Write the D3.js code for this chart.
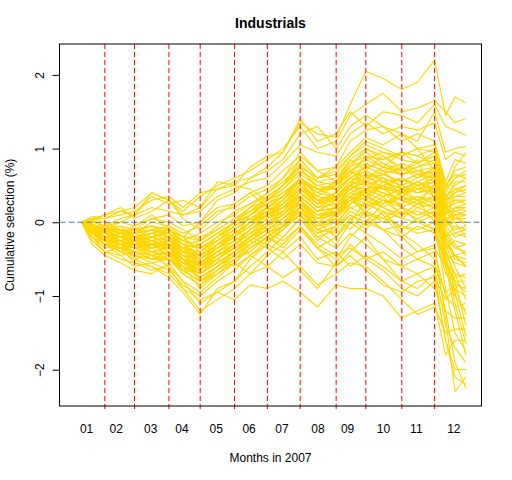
<!DOCTYPE html>
<html>
<head>
<meta charset="utf-8">
<script src="https://cdn.jsdelivr.net/npm/d3@7/dist/d3.min.js"></script>
<style>
  html, body { margin: 0; padding: 0; background: #fff; }
  text { font-family: "Liberation Sans", Arial, sans-serif; }
</style>
</head>
<body>
<div id="chart"></div>
<script>
// ---- data ----
const title = "Industrials";
const xLabel = "Months in 2007";
const yLabel = "Cumulative selection (%)";
// trading-day index of each sampled point
const days = [5,12,20,30,39,50,61,70,81,92,103,113,124,134,145,156,168,177,187,198,210,220,231,238,244,251];
// month-end boundaries (trading-day index)
const monthEnds = [20,39,61,81,103,124,145,168,187,210,231];
// month label positions (trading-day index) and labels
const monthTickPos = [8,27,49,69,91,112,133,156,175,198,219,243];
const monthLabels = ["01","02","03","04","05","06","07","08","09","10","11","12"];
const yTicks = [-2,-1,0,1,2];
// cumulative selection series (%), one row per portfolio
const series = [
[0,.05,.05,.1,.15,.3,.35,.2,.4,.45,.55,.6,.75,.95,1.35,1.2,1.15,1.6,2.05,1.95,1.8,1.9,2.2,1.45,1.7,1.62],
[0,.02,.1,.15,.1,.4,.3,.15,.35,.5,.6,.7,.85,1.0,1.3,1.0,1.1,1.45,1.6,1.75,1.5,1.55,1.65,1.5,1.35,1.41],
[0,-.05,-.1,0,.1,.35,.25,.3,.2,.45,.5,.75,.9,.95,1.4,1.1,1.2,1.5,1.3,1.5,1.45,1.35,1.6,1.3,1.25,1.18],
[0,-.1,-.2,-.15,-.05,.1,-.1,-.2,0,.3,.4,.6,.7,.85,1.2,1.3,1.0,1.3,1.45,1.3,1.2,1.1,1.5,.95,1.0,1.03],
[0,.03,-.05,.05,.1,.2,.15,.1,.15,.35,.45,.55,.6,.8,1.05,.95,.9,1.2,1.35,1.2,1.3,1.25,1.35,.85,.95,.9],
[0,-.15,-.3,-.35,-.25,-.3,-.45,-.7,-.6,-.3,-.2,.1,.3,.5,.85,.6,.75,1.1,1.25,1.3,1.1,1.2,1.1,.55,.85,.8],
[0,0,-.05,0,-.05,.05,.1,-.05,0,.2,.25,.4,.5,.7,.9,.7,.75,.95,1.15,1.05,1.2,1.0,.7,.2,.1,-.05],
[0,-.05,-.1,-.1,-.15,0,-.05,-.15,-.05,.15,.2,.35,.45,.6,.85,.6,.65,.9,1.05,.95,.9,1.0,1.05,.5,.65,.6],
[0,-.1,-.3,-.4,-.5,-.6,-.75,-.95,-1.25,-.9,-.8,-.5,-.3,-.05,.3,.1,.2,.5,.8,.7,.45,.55,.4,-.1,-.3,-.45],
[0,-.05,-.2,-.15,-.2,-.15,-.1,-.25,-.15,0,.1,.25,.35,.5,.7,.55,.5,.8,.9,.85,.95,.8,.9,.35,.45,.4],
[0,-.1,-.15,-.2,-.25,-.2,-.15,-.3,-.25,-.1,.05,.15,.3,.45,.65,.5,.45,.7,.85,.75,.7,.85,.3,-.6,-1.0,-1.2],
[0,-.08,-.2,-.25,-.2,-.25,-.3,-.35,-.3,-.15,0,.1,.25,.35,.6,.4,.5,.65,.75,.8,.65,.7,.75,.25,.3,.3],
[0,.05,.1,.2,.05,.15,.3,.1,.2,.55,.5,.45,.3,.4,.55,.3,.2,.45,.35,.5,.2,.3,0,-.9,-1.5,-1.75],
[0,-.05,-.15,-.3,-.35,-.3,-.35,-.45,-.5,-.35,-.2,0,.1,.25,.45,.3,.35,.5,.6,.65,.55,.65,.6,.1,.2,.15],
[0,-.15,-.3,-.25,-.3,-.4,-.45,-.5,-.55,-.4,-.25,-.1,.05,.2,.4,.2,.25,.45,.55,.5,.6,.5,.55,.05,.1,.1],
[0,-.1,-.2,-.35,-.4,-.45,-.4,-.55,-.6,-.5,-.35,-.2,0,.15,.35,.15,.2,.4,.5,.45,.4,.45,.5,0,.05,.05],
[0,-.15,-.25,-.3,-.45,-.5,-.5,-.6,-.7,-.55,-.4,-.25,-.1,.05,.3,.1,.1,.35,.45,.35,.45,.4,.45,-.05,0,0],
[0,.08,.05,.15,.2,.4,.3,.05,-.1,.1,.25,.4,.2,.1,.3,0,-.2,.05,-.1,.15,-.15,-.3,-.5,-1.2,-1.9,-2.25],
[0,-.05,-.1,-.05,-.2,-.1,-.3,-.5,-.8,-.6,-.4,-.2,-.3,-.1,.2,-.1,-.3,0,.3,.1,-.2,-.4,-.3,-1.3,-2.3,-2.1],
[0,-.2,-.35,-.3,-.5,-.45,-.6,-.9,-1.2,-1.05,-.9,-.7,-.45,-.3,-.05,-.35,-.6,-.4,-.2,-.5,-.8,-.9,-.7,-1.6,-2.0,-2.0],
[0,-.1,-.25,-.4,-.3,-.2,-.15,-.35,-.6,-.45,-.3,-.1,.1,.3,.55,.3,.1,.35,.1,-.1,-.35,-.5,-.6,-1.4,-1.7,-1.9],
[0,-.3,-.45,-.55,-.65,-.7,-.55,-.8,-1.1,-.95,-1.05,-.85,-.9,-.8,-.95,-1.15,-.85,-.9,-.9,-1.0,-1.3,-1.2,-1.1,-1.8,-1.6,-1.6],
[0,-.25,-.4,-.35,-.55,-.65,-.6,-.8,-.95,-.75,-.55,-.7,-.6,-.75,-.6,-.85,-.7,-.55,-.6,-.8,-1.05,-1.25,-1.15,-1.5,-1.45,-1.45],
[0,-.15,-.3,-.45,-.4,-.5,-.4,-.5,-.7,-.5,-.6,-.45,-.3,-.4,-.2,-.5,-.4,-.6,-.45,-.6,-.8,-.7,-.9,-1.2,-1.3,-1.3],
[0,-.1,-.15,-.25,-.35,-.3,-.25,-.4,-.55,-.4,-.45,-.3,-.15,-.25,-.05,-.3,-.45,-.35,-.5,-.4,-.6,-.5,-.4,-1.0,-1.15,-1.1],
[0,.05,0,-.1,-.2,-.25,-.2,-.3,-.45,-.3,-.1,-.25,-.35,-.5,-.3,-.55,-.6,-.45,-.65,-.85,-.95,-.8,-.75,-1.05,-.9,-1.0],
[0,-.05,-.1,-.2,-.1,-.05,-.15,-.25,-.35,-.2,-.05,.05,-.1,-.2,.05,-.2,-.35,-.15,-.3,-.5,-.6,-.7,-.6,-.95,-.85,-.9],
[0,-.15,-.2,-.3,-.25,-.4,-.35,-.55,-.65,-.45,-.3,-.15,-.25,-.1,.1,-.15,-.05,.15,.05,-.1,-.2,-.05,-.15,-.7,-.8,-.8],
[0,-.1,-.2,-.3,-.4,-.5,-.5,-.65,-.8,-.7,-.55,-.35,-.2,-.35,-.1,-.35,-.2,0,-.15,-.3,-.5,-.4,-.35,-.6,-.75,-.7],
[0,-.05,-.15,-.1,-.2,-.35,-.25,-.45,-.5,-.3,-.15,0,.15,-.05,.2,-.05,.1,.25,.4,.2,.05,.2,.1,-.4,-.55,-.6],
[0,-.2,-.3,-.25,-.35,-.3,-.45,-.55,-.75,-.6,-.4,-.25,-.1,.05,.25,0,.15,.35,.2,.35,.1,.25,.2,-.3,-.45,-.5],
[0,-.1,-.25,-.15,-.3,-.2,-.3,-.4,-.45,-.25,-.05,.1,.2,.35,.6,.35,.5,.7,.5,.4,.2,0,-.1,-.5,-.45,-.4],
[0,-.2,-.4,-.45,-.6,-.55,-.65,-.85,-1.0,-.8,-.65,-.45,-.25,-.1,.1,-.2,-.1,.1,-.05,.15,-.1,.05,.15,-.35,-.25,-.3],
[0,-.05,-.2,-.25,-.2,-.15,-.25,-.35,-.4,-.2,0,.2,.4,.55,.75,.45,.35,.55,.65,.45,.3,.35,.25,-.2,-.15,-.2],
[0,-.25,-.4,-.5,-.55,-.6,-.7,-.9,-1.05,-.95,-.8,-.6,-.4,-.2,.05,-.25,-.05,.25,.45,.6,.35,.5,.6,.05,-.15,-.1],
[0,.02,-.05,-.15,-.1,.05,0,-.1,-.25,-.05,.15,.25,.4,.6,.95,.7,.55,.75,1.0,.9,.7,.8,.95,.2,.4,.45],
[0,-.1,-.2,-.3,-.2,-.25,-.35,-.55,-.7,-.5,-.3,-.1,.05,.25,.5,.25,.4,.65,.9,.75,.95,.9,.8,.3,.55,.55],
[0,-.15,-.25,-.2,-.3,-.45,-.4,-.6,-.9,-.7,-.5,-.4,-.2,-.3,-.05,-.35,-.5,-.2,0,.25,.4,.5,.35,-.2,-.45,-.6],
[0,-.05,-.1,-.2,-.3,-.25,-.4,-.65,-.55,-.35,-.25,-.45,-.6,-.4,-.65,-.9,-.55,-.3,-.5,-.65,-.9,-1.0,-.8,-1.6,-2.1,-2.2],
[0,-.05,-.15,-.1,-.2,-.1,-.05,-.2,-.4,-.25,-.1,.05,.2,.1,.35,.15,.3,.5,.35,.55,.4,.55,.45,-.05,-.2,-.15],
[0,-.1,-.05,-.15,-.25,-.35,-.3,-.5,-.65,-.45,-.35,-.2,-.05,.15,.4,.25,.4,.6,.7,.55,.45,.3,.5,0,.2,.25],
[0,-.05,-.2,-.3,-.25,-.2,-.1,-.3,-.5,-.3,-.15,0,.15,.3,.6,.4,.55,.85,.7,.9,.75,.6,.75,.15,.35,.35],
[0,-.15,-.3,-.4,-.45,-.55,-.5,-.7,-.85,-.65,-.45,-.3,-.15,0,.2,-.05,.05,.3,.15,0,.15,.05,-.1,-.55,-.7,-.75],
[0,-.1,-.25,-.2,-.15,-.05,-.2,-.4,-.3,-.15,-.2,-.35,-.2,-.05,.15,-.1,.05,-.1,.15,.3,.1,.25,.5,0,.15,.2],
[0,-.05,-.1,-.15,-.1,-.2,-.15,-.3,-.45,-.3,-.2,-.05,.1,.2,.45,.3,.4,.6,.55,.45,.6,.45,.55,.1,.3,.25],
[0,-.1,-.2,-.25,-.3,-.25,-.35,-.45,-.6,-.4,-.25,-.1,.05,.15,.35,.15,.3,.5,.65,.6,.5,.6,.7,.2,.05,0],
[0,-.05,-.05,-.1,-.15,-.1,-.2,-.35,-.3,-.15,0,.15,.25,.35,.55,.45,.5,.7,.8,.7,.8,.7,.65,.3,.4,.5],
[0,-.12,-.2,-.2,-.3,-.4,-.35,-.5,-.7,-.55,-.4,-.2,-.05,.1,.3,.05,.2,.4,.3,.5,.35,.45,.4,-.15,-.35,-.4],
[0,-.08,-.15,-.2,-.25,-.15,-.2,-.4,-.5,-.3,-.15,0,.2,.3,.5,.35,.3,.45,.6,.7,.65,.75,.85,.4,.6,.65],
[0,-.15,-.25,-.35,-.3,-.35,-.3,-.45,-.55,-.45,-.3,-.15,-.05,.05,.25,.1,.15,.3,.4,.3,.25,.35,.3,-.2,-.05,-.1],
[0,-.02,-.1,-.05,-.1,-.05,-.1,-.2,-.2,-.1,.05,.2,.3,.45,.7,.5,.55,.8,.95,.8,.7,.75,.8,.35,.5,.6],
[0,-.1,-.25,-.3,-.35,-.45,-.4,-.6,-.75,-.6,-.45,-.25,-.1,0,.2,0,.05,.25,.35,.2,.35,.3,.35,-.25,-.5,-.55],
[0,-.05,-.15,-.2,-.25,-.2,-.25,-.35,-.4,-.25,-.1,.05,.15,.25,.45,.25,.3,.55,.5,.6,.5,.4,.5,.05,-.1,-.05],
[0,-.1,-.1,-.2,-.2,-.3,-.25,-.4,-.55,-.4,-.3,-.15,.05,.2,.4,.2,.35,.5,.45,.35,.45,.55,.65,.25,.15,.1],
[0,-.15,-.2,-.3,-.4,-.35,-.45,-.55,-.65,-.5,-.35,-.2,-.05,.1,.35,.15,.2,.35,.25,.4,.3,.2,.25,-.3,-.6,-.9],
[0,-.05,-.15,-.1,-.15,-.25,-.2,-.3,-.35,-.2,-.05,.1,.25,.4,.6,.45,.45,.6,.75,.65,.55,.65,.55,.2,.25,.3],
[0,-.2,-.3,-.35,-.45,-.5,-.45,-.65,-.8,-.65,-.5,-.3,-.15,-.05,.15,-.1,0,.2,.1,.05,.2,.1,.15,-.4,-.7,-1.05],
[0,-.05,-.1,-.1,-.2,-.15,-.1,-.25,-.3,-.15,0,.1,.3,.5,.8,.55,.6,.85,1.0,.85,.95,.9,1.0,.5,.7,.75],
[0,-.1,-.2,-.15,-.25,-.3,-.3,-.45,-.6,-.45,-.3,-.15,0,.1,.3,.1,.1,.3,.45,.5,.4,.3,.2,-.35,-.8,-1.4],
[0,-.12,-.25,-.3,-.3,-.4,-.35,-.5,-.65,-.5,-.35,-.2,-.1,.05,.2,.05,.15,.35,.3,.2,.1,.15,.05,-.45,-.95,-1.55],
[0,-.05,-.1,-.2,-.2,-.2,-.3,-.4,-.5,-.35,-.2,-.05,.15,.25,.5,.3,.4,.6,.55,.65,.75,.65,.7,.3,.35,.4],
[0,-.1,-.2,-.25,-.35,-.3,-.4,-.55,-.7,-.55,-.4,-.25,-.1,.05,.25,.05,.1,.3,.2,.3,.2,.1,.2,-.5,-1.1,-1.65],
[0,-.08,-.15,-.25,-.2,-.3,-.25,-.35,-.5,-.35,-.15,0,.15,.3,.55,.4,.35,.55,.7,.55,.6,.5,.6,.15,0,-.2],
[0,-.15,-.3,-.35,-.45,-.4,-.5,-.7,-.85,-.7,-.55,-.35,-.2,-.05,.1,-.15,-.05,.1,0,-.1,-.05,-.15,-.1,-.6,-1.2,-1.8],
[0,-.05,-.1,-.15,-.15,-.1,-.15,-.3,-.35,-.25,-.1,.05,.2,.35,.6,.4,.5,.75,.85,.95,.85,.8,.9,.45,.75,.95],
[0,-.1,-.15,-.25,-.3,-.35,-.3,-.5,-.6,-.45,-.3,-.1,.05,.15,.4,.2,.25,.45,.55,.45,.5,.4,.45,-.05,.1,.15],
[0,-.05,-.2,-.2,-.25,-.3,-.35,-.45,-.5,-.35,-.2,-.05,.1,.2,.35,.15,.2,.4,.35,.25,.35,.25,.35,-.2,-.35,-.3],
[0,-.1,-.2,-.3,-.35,-.45,-.4,-.6,-.75,-.6,-.45,-.3,-.15,-.05,.15,-.05,0,.2,.25,.15,.05,0,.1,-.45,-.9,-1.25],
[0,-.03,-.08,-.12,-.1,-.05,-.1,-.2,-.25,-.1,.05,.15,.35,.5,.75,.6,.7,.9,1.1,1.0,.9,1.0,.95,.45,.6,.7],
[0,-.1,-.2,-.2,-.3,-.3,-.35,-.5,-.55,-.4,-.25,-.1,.1,.2,.45,.25,.35,.5,.6,.55,.45,.55,.45,0,.05,.1],
[0,-.15,-.25,-.3,-.4,-.45,-.5,-.65,-.8,-.65,-.5,-.35,-.2,-.05,.1,-.1,-.15,.05,.15,.05,-.05,-.1,0,-.55,-.8,-.95],
[0,-.05,-.15,-.2,-.2,-.25,-.2,-.35,-.45,-.3,-.15,0,.2,.35,.6,.45,.5,.7,.6,.75,.65,.7,.6,.25,.45,.5],
[0,-.1,-.25,-.25,-.35,-.4,-.45,-.6,-.7,-.55,-.4,-.2,-.05,.1,.3,.1,.15,.35,.45,.4,.3,.25,.3,-.25,-.45,-.6],
[0,-.08,-.12,-.2,-.25,-.2,-.3,-.4,-.45,-.3,-.15,0,.1,.25,.5,.3,.3,.5,.4,.5,.6,.5,.55,.1,.2,.2]
];

// ---- layout ----
const W = 512, H = 480;
const L = 59.5, R = 481.5, T = 44, B = 406;

const svg = d3.select("#chart").append("svg")
  .attr("width", W).attr("height", H)
  .style("display", "block")
  .style("background", "#fff");

const x = d3.scaleLinear().domain([-9, 261]).range([L, R]);
const y = d3.scaleLinear().domain([-2.493, 2.419]).range([B, T]);

svg.append("defs").append("clipPath").attr("id", "plotclip")
  .append("rect").attr("x", L).attr("y", T).attr("width", R - L).attr("height", B - T);

const line = d3.line()
  .x((d, i) => x(days[i]))
  .y(d => y(d));

svg.append("g").attr("clip-path", "url(#plotclip)")
  .selectAll("path").data(series).join("path")
  .attr("d", line)
  .attr("fill", "none")
  .attr("stroke", "#FFD700")
  .attr("stroke-width", 1.1)
  .attr("stroke-linejoin", "round");

// horizontal zero line
svg.append("line")
  .attr("x1", L).attr("x2", R)
  .attr("y1", y(0)).attr("y2", y(0))
  .attr("stroke", "#4682B4").attr("stroke-width", 1)
  .attr("stroke-dasharray", "6,3");

// month boundaries
svg.append("g").selectAll("line").data(monthEnds).join("line")
  .attr("x1", d => x(d)).attr("x2", d => x(d))
  .attr("y1", T).attr("y2", B + 5)
  .attr("stroke", "#FF0000").attr("stroke-width", 1)
  .attr("stroke-dasharray", "5,3");

// box
svg.append("rect")
  .attr("x", L).attr("y", T).attr("width", R - L).attr("height", B - T)
  .attr("fill", "none").attr("stroke", "#000").attr("stroke-width", 1);

// y axis
const yAxis = d3.axisLeft(y).tickValues(yTicks).tickSize(7).tickPadding(3)
  .tickFormat(d3.format("d"));
const gy = svg.append("g").attr("transform", `translate(${L},0)`).call(yAxis);
gy.select(".domain").remove();
gy.selectAll(".tick line").attr("stroke", "#000");
gy.selectAll(".tick text")
  .attr("font-size", 12)
  .attr("fill", "#000")
  .attr("x", null).attr("dy", null)
  .attr("text-anchor", "middle")
  .attr("transform", "translate(-16,0) rotate(-90)");

// x axis labels (no tick marks)
const xAxis = d3.axisBottom(x).tickValues(monthTickPos).tickSize(0).tickPadding(0)
  .tickFormat((d, i) => monthLabels[i]);
const gx = svg.append("g").attr("transform", `translate(0,${B})`).call(xAxis);
gx.select(".domain").remove();
gx.selectAll(".tick line").remove();
gx.selectAll(".tick text")
  .attr("font-size", 12).attr("fill", "#000")
  .attr("y", 27).attr("dy", null);

// titles
svg.append("text").attr("x", (L + R) / 2).attr("y", 28)
  .attr("text-anchor", "middle").attr("font-size", 14).attr("font-weight", "bold")
  .text(title);
svg.append("text").attr("x", (L + R) / 2).attr("y", 462)
  .attr("text-anchor", "middle").attr("font-size", 12)
  .text(xLabel);
svg.append("text")
  .attr("transform", `translate(14,${(T + B) / 2}) rotate(-90)`)
  .attr("text-anchor", "middle").attr("font-size", 12)
  .text(yLabel);
</script>
</body>
</html>
